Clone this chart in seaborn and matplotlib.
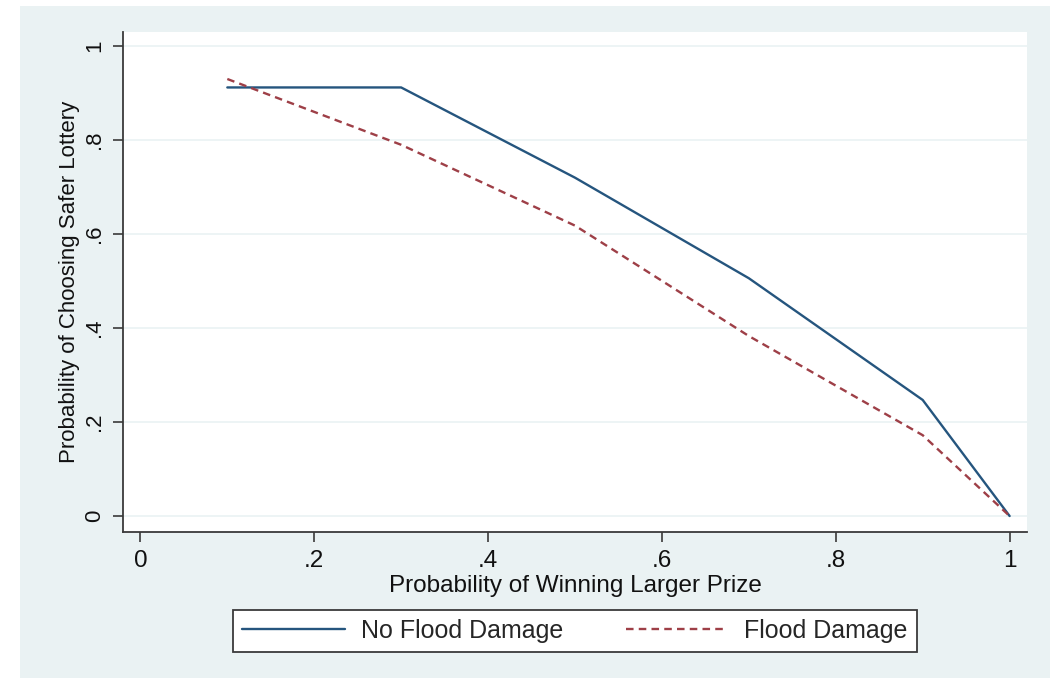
import matplotlib
matplotlib.use("Agg")
import matplotlib.pyplot as plt
import seaborn as sns
import pandas as pd
from matplotlib.patches import Rectangle

# Probability of winning the larger prize
win_prob = [0.1, 0.3, 0.5, 0.7, 0.9, 1.0]
# Probability of choosing the safer lottery
no_flood = [0.912, 0.912, 0.72, 0.506, 0.247, 0.0]
flood = [0.930, 0.790, 0.618, 0.383, 0.172, 0.0]

series_names = ["No Flood Damage", "Flood Damage"]
x_ticks = [0, 0.2, 0.4, 0.6, 0.8, 1.0]
x_ticklabels = ["0", ".2", ".4", ".6", ".8", "1"]
y_ticks = [0, 0.2, 0.4, 0.6, 0.8, 1.0]
y_ticklabels = ["0", ".2", ".4", ".6", ".8", "1"]

df = pd.DataFrame({
    "x": win_prob * 2,
    "y": no_flood + flood,
    "group": [series_names[0]] * len(win_prob) + [series_names[1]] * len(win_prob),
})

sns.set_theme(style="white")
plt.rcParams["font.family"] = ["Liberation Sans", "DejaVu Sans"]

BG = "#EAF2F3"
NAVY = "#25557E"
MAROON = "#9E3F47"
AXC = "#3a3a3a"
FS = 17.5
FS_Y = 16
FS_LEG = 18

fig = plt.figure(figsize=(10.5, 6.78), dpi=100, facecolor="white")
fig.patches.append(Rectangle((20 / 1050, 0), 1 - 20 / 1050, 1 - 6 / 678,
                             transform=fig.transFigure, facecolor=BG,
                             edgecolor="none", zorder=-5))

ax = fig.add_axes([123 / 1050, 1 - 532 / 678, (1027 - 123) / 1050, (532 - 32) / 678])
ax.set_zorder(2)
ax.set_facecolor("white")

sns.lineplot(data=df, x="x", y="y", hue="group", style="group",
             palette={series_names[0]: NAVY, series_names[1]: MAROON},
             dashes={series_names[0]: "", series_names[1]: (3.2, 2.2)},
             linewidth=1.7, ax=ax, legend=False)

ax.set_xlim(-0.02, 1.02)
ax.set_ylim(-0.034, 1.03)
ax.set_xticks(x_ticks)
ax.set_xticklabels(x_ticklabels, fontsize=FS)
ax.set_yticks(y_ticks)
ax.set_yticklabels(y_ticklabels, fontsize=FS_Y, rotation=90, va="center")
ax.tick_params(axis="both", direction="out", length=7, width=1.2, color=AXC,
               labelcolor="#111111", pad=6, left=True, bottom=True)

ax.yaxis.grid(True, color=BG, linewidth=1.2)
ax.xaxis.grid(False)
ax.set_axisbelow(True)

for side in ["top", "right"]:
    ax.spines[side].set_visible(False)
for side in ["left", "bottom"]:
    ax.spines[side].set_color(AXC)
    ax.spines[side].set_linewidth(1.3)

ax.set_xlabel("Probability of Winning Larger Prize", fontsize=FS, color="#111111", labelpad=2)
ax.set_ylabel("Probability of Choosing Safer Lottery", fontsize=FS_Y, color="#111111", labelpad=3)

handles = [ax.lines[0], ax.lines[1]]
leg = fig.legend(handles, series_names, loc="center", ncol=2,
                 bbox_to_anchor=(575 / 1050, 1 - 631 / 678),
                 frameon=True, fancybox=False, fontsize=FS_LEG, framealpha=1,
                 handlelength=4.1, handletextpad=0.65, columnspacing=2.5,
                 borderpad=0.35, borderaxespad=0)
leg.get_frame().set_edgecolor(AXC)
leg.get_frame().set_linewidth(1.3)
leg.get_frame().set_facecolor("white")

fig.savefig("out.png", dpi=100, facecolor=fig.get_facecolor())
